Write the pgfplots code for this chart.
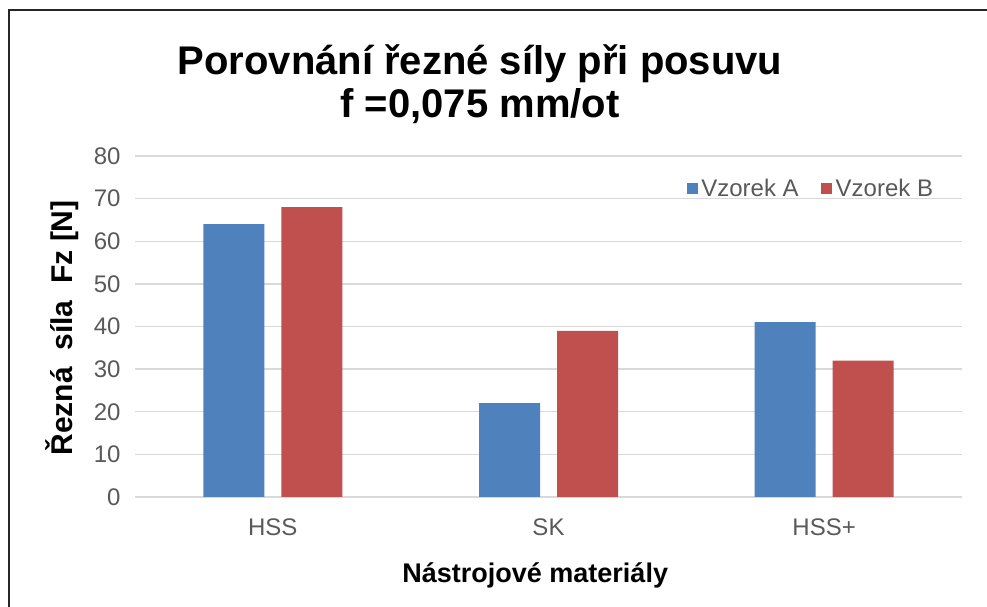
\documentclass[border=0pt]{standalone}
\usepackage{pgfplots}
\pgfplotsset{compat=1.18}
\usepackage{fontspec}
\setmainfont{Liberation Sans}
\definecolor{barA}{HTML}{4F81BD}
\definecolor{barB}{HTML}{C0504D}
\definecolor{ticktxt}{HTML}{595959}
\definecolor{gridc}{HTML}{D9D9D9}
\pgfplotsset{sq/.style={legend image code/.code={\fill[##1] (0bp,-5.5bp) rectangle (11bp,5.5bp);}}}
\begin{document}
\begin{tikzpicture}
\useasboundingbox (0bp,0bp) rectangle (987bp,607bp);
\draw[line width=2bp, black!85] (9bp,0bp) -- (9bp,597bp) -- (987bp,597bp);
\node[anchor=base, font=\fontsize{40bp}{44bp}\selectfont\bfseries] at (480bp,532bp) {Porovnání řezné síly při posuvu};
\node[anchor=base, font=\fontsize{40bp}{44bp}\selectfont\bfseries] at (480bp,489bp) {f =0,075 mm/ot};
\begin{axis}[
  at={(135bp,110bp)}, anchor=south west,
  scale only axis, width=827bp, height=341bp,
  ybar=17bp, bar width=61bp,
  xmin=-0.5, xmax=2.5, ymin=0, ymax=80,
  xtick=data, xticklabels={HSS,SK,HSS+},
  ytick={0,10,...,80},
  major tick length=0pt,
  axis line style={draw=none},
  ymajorgrids, major grid style={color=gridc, line width=1.4bp},
  /pgf/number format/assume math mode=true,
  tick label style={font=\fontsize{24bp}{28bp}\selectfont, text=ticktxt},
  yticklabel style={xshift=-11bp},
  xticklabel style={yshift=-18bp},
  xlabel={Nástrojové materiály},
  xlabel style={font=\fontsize{27bp}{30bp}\selectfont\bfseries, at={(rel axis cs:0.484,-0.252)}, anchor=base},
  ylabel={Řezná \ síla \ Fz [N]},
  ylabel style={font=\fontsize{30bp}{33bp}\selectfont\bfseries, at={(rel axis cs:-0.088,0.496)}, anchor=center},
  legend columns=2,
  legend style={draw=none, fill=none, at={(rel axis cs:0.667,0.906)}, anchor=west,
    font=\fontsize{24bp}{28bp}\selectfont, text=ticktxt,
    /tikz/every even column/.append style={column sep=19bp},
    inner sep=0pt, nodes={inner sep=3.5bp}},
]
\addplot[fill=barA, draw=none, sq] coordinates {(0,64) (1,22) (2,41)};
\addplot[fill=barB, draw=none, sq] coordinates {(0,68) (1,39) (2,32)};
\legend{Vzorek A, Vzorek B}
\end{axis}
\end{tikzpicture}
\end{document}
